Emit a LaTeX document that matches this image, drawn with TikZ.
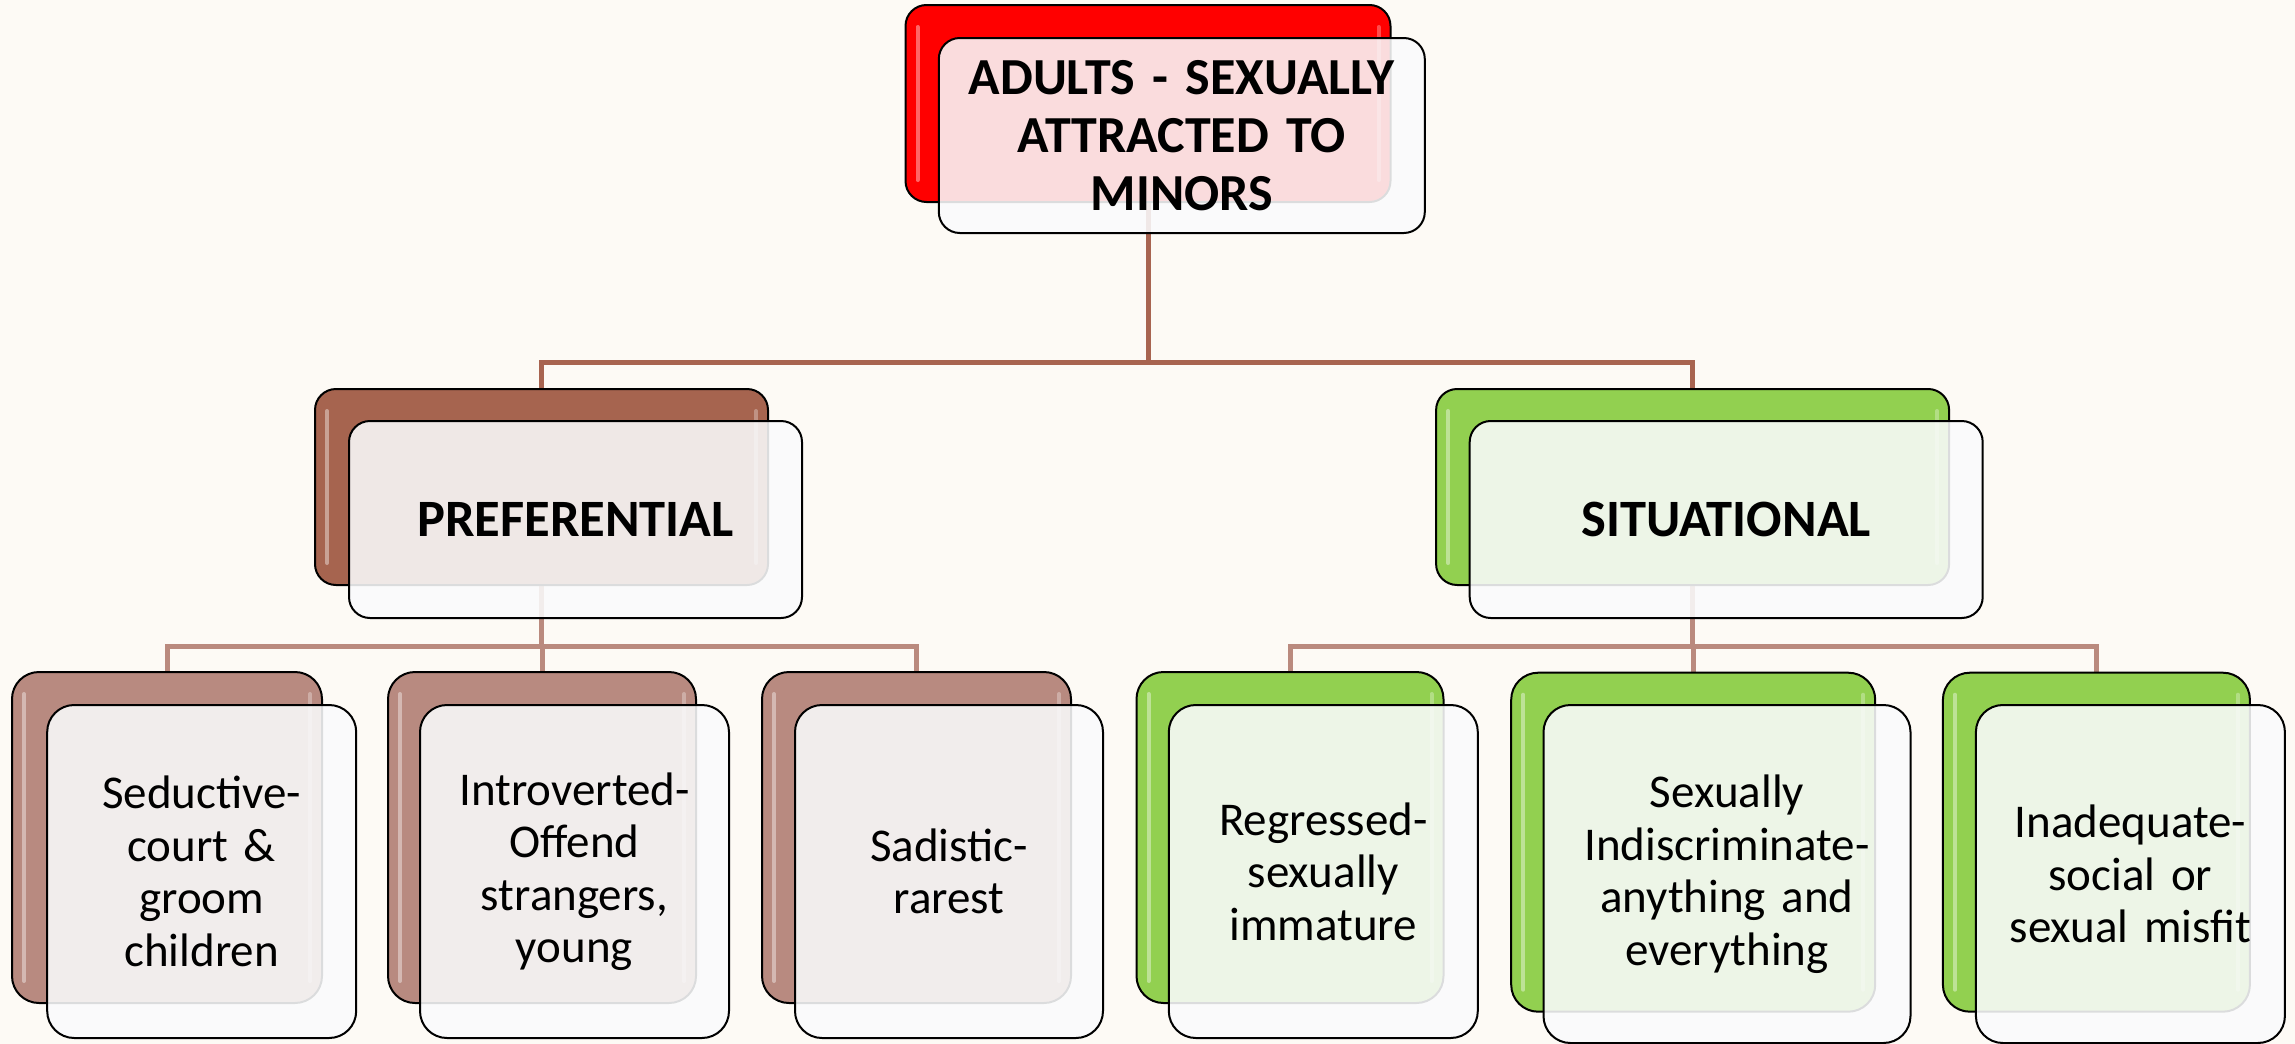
\documentclass[tikz,border=0pt]{standalone}
\usepackage{fontspec}
\setmainfont[WordSpace=0.8]{Carlito}
\usetikzlibrary{calc}
\pgfdeclarelayer{backdrop}
\pgfdeclarelayer{bg}
\pgfsetlayers{backdrop,bg,main}
\definecolor{bgc}{RGB}{253,250,245}
\definecolor{redc}{RGB}{255,0,0}
\definecolor{brownc}{RGB}{166,100,79}
\definecolor{rosyc}{RGB}{184,138,128}
\definecolor{greenc}{RGB}{146,208,80}
\definecolor{connA}{RGB}{168,100,80}
\definecolor{connB}{RGB}{186,138,126}
\definecolor{frontc}{RGB}{250,251,252}
\begin{document}
\begin{tikzpicture}[x=1pt,y=-1pt,
  backbox/.style={draw=black, line width=2pt, inner sep=0pt,
    path picture={
      \draw[white, opacity=0.4, line width=4pt, line cap=round]
        ([xshift=12pt,yshift=-22pt]path picture bounding box.north west) --
        ([xshift=12pt,yshift=22pt]path picture bounding box.south west);
      \draw[white, opacity=0.3, line width=4pt, line cap=round]
        ([xshift=-12pt,yshift=-22pt]path picture bounding box.north east) --
        ([xshift=-12pt,yshift=22pt]path picture bounding box.south east);
    }},
  frontbox/.style={draw=black, line width=2pt, fill=frontc, fill opacity=0.88,
    text opacity=1, draw opacity=1, align=center, inner sep=0pt},
  lvA/.style={rounded corners=21pt},
  lvB/.style={rounded corners=27pt},
  topfont/.style={font=\fontsize{52}{58.3}\selectfont\bfseries},
  midfont/.style={font=\fontsize{52.5}{60}\selectfont\bfseries},
  lowfont/.style={font=\fontsize{47}{52.5}\selectfont},
  connone/.style={draw=connA, line width=5pt},
  conntwo/.style={draw=connB, line width=5pt}
]
\useasboundingbox (0,0) rectangle (2295,1044);
\begin{pgfonlayer}{backdrop}
  \fill[bgc] (0,0) rectangle (2295,1044);
\end{pgfonlayer}

% ---- top level
\node[backbox, lvA, fill=redc, minimum width=485pt, minimum height=197pt] (topB) at (1148,103.5) {};
\node[frontbox, lvA, topfont, minimum width=486pt, minimum height=195pt, text width=466pt] (topF) at (1181.8,135.5)
  {ADULTS - SEXUALLY\\ATTRACTED TO\\MINORS};

% ---- middle level
\node[backbox, lvA, fill=brownc, minimum width=453pt, minimum height=196pt] (prefB) at (541.5,487) {};
\node[frontbox, lvA, midfont, minimum width=453pt, minimum height=197pt, text width=433pt] (prefF) at (575.5,519.5) {PREFERENTIAL};

\node[backbox, lvA, fill=greenc, minimum width=513pt, minimum height=196pt] (sitB) at (1692.6,487) {};
\node[frontbox, lvA, midfont, minimum width=513pt, minimum height=197pt, text width=493pt] (sitF) at (1726.2,519.5) {SITUATIONAL};

% ---- bottom level, preferential
\node[backbox, lvB, fill=rosyc, minimum width=310pt, minimum height=331pt] (bA) at (167,837.5) {};
\node[frontbox, lvB, lowfont, minimum width=309pt, minimum height=333pt, text width=290pt] (fA) at (201.7,871.5)
  {Seductive-\\court \&\\groom\\children};

\node[backbox, lvB, fill=rosyc, minimum width=308pt, minimum height=331pt] (bB) at (542,837.5) {};
\node[frontbox, lvB, lowfont, minimum width=309pt, minimum height=333pt, text width=290pt] (fB) at (574.5,871.5)
  {Introverted-\\Offend\\strangers,\\young};

\node[backbox, lvB, fill=rosyc, minimum width=309pt, minimum height=331pt] (bC) at (916.5,837.5) {};
\node[frontbox, lvB, lowfont, minimum width=308pt, minimum height=333pt, text width=290pt] (fC) at (949,871.5)
  {Sadistic-\\rarest};

% ---- bottom level, situational
\node[backbox, lvB, fill=greenc, minimum width=307pt, minimum height=331pt] (bD) at (1290,837.5) {};
\node[frontbox, lvB, lowfont, minimum width=309pt, minimum height=333pt, text width=290pt] (fD) at (1323.3,871.5)
  {Regressed-\\sexually\\immature};

\node[backbox, lvB, fill=greenc, minimum width=364pt, minimum height=339pt] (bE) at (1693.2,842.2) {};
\node[frontbox, lvB, lowfont, minimum width=367pt, minimum height=338pt, text width=345pt] (fE) at (1727,874)
  {Sexually\\Indiscriminate-\\anything and\\everything};

\node[backbox, lvB, fill=greenc, minimum width=307pt, minimum height=339pt] (bF) at (2096.4,842.2) {};
\node[frontbox, lvB, lowfont, minimum width=309pt, minimum height=338pt, text width=295pt] (fF) at (2130.4,874)
  {Inadequate-\\social or\\sexual misfit};

% ---- connectors
\coordinate (jA) at (1148,362.7);
\coordinate (jB) at (541.5,646);
\coordinate (jC) at (1692.6,646);
\begin{pgfonlayer}{bg}
  \draw[connone] (topB.south) -- (topB.south |- jA);
  \draw[connone] (prefB.north) -- (prefB.north |- jA) -- (sitB.north |- jA) -- (sitB.north);
  \draw[conntwo] (prefB.south) -- (prefB.south |- jB);
  \draw[conntwo] (bA.north) -- (bA.north |- jB) -- (bC.north |- jB) -- (bC.north);
  \draw[conntwo] (bB.north) -- (bB.north |- jB);
  \draw[conntwo] (sitB.south) -- (sitB.south |- jC);
  \draw[conntwo] (bD.north) -- (bD.north |- jC) -- (bF.north |- jC) -- (bF.north);
  \draw[conntwo] (bE.north) -- (bE.north |- jC);
\end{pgfonlayer}
\end{tikzpicture}
\end{document}
